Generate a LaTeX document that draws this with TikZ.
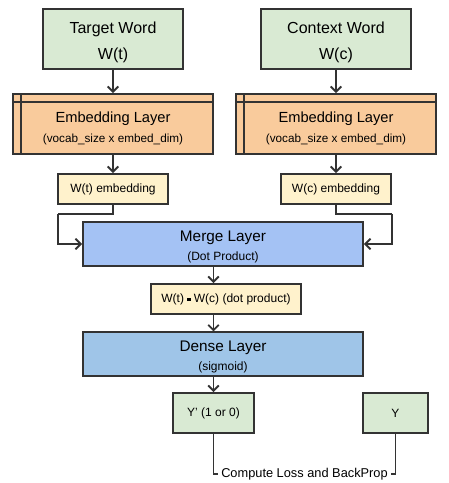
\documentclass[tikz,border=0pt]{standalone}
\usepackage{fontspec}
\setmainfont{Liberation Sans}
\usepackage{tikz}
\usetikzlibrary{arrows,arrows.meta,positioning,calc}
\definecolor{wordgreen}{HTML}{D9EAD3}
\definecolor{embedorange}{HTML}{F9CB9C}
\definecolor{vecyellow}{HTML}{FFF2CC}
\definecolor{mergeblue}{HTML}{A4C2F4}
\definecolor{denseblue}{HTML}{9FC5E8}
\definecolor{edgegray}{HTML}{333333}

\begin{document}
\begin{tikzpicture}[x=0.75pt, y=-0.75pt, >={Straight Barb[length=4pt,width=8pt]},
        box/.style={draw=edgegray, line width=1.4pt, align=center, inner sep=2pt},
        wordbox/.style={box, fill=wordgreen, minimum height=45pt, font=\fontsize{12}{14}\selectfont},
        embedbox/.style={box, fill=embedorange, minimum width=150pt, minimum height=45pt},
        vecbox/.style={box, fill=vecyellow, minimum height=22.5pt, font=\fontsize{9}{10}\selectfont},
        layerbox/.style={box, minimum width=210pt, minimum height=30pt},
        link/.style={draw=edgegray, line width=1.4pt}]
        \useasboundingbox (0,0) rectangle (449,483);

        % Inputs
        \node[wordbox, minimum width=105pt] (target) at (113,39) {\rule{0pt}{13.5pt}Target Word\\[5pt]W(t)};
        \node[wordbox, minimum width=112.5pt] (context) at (336,39) {\rule{0pt}{13.5pt}Context Word\\[5pt]W(c)};

        % Embedding layers
        \node[embedbox] (embt) at (113,124) {\fontsize{11}{12}\selectfont\rule{0pt}{15pt}Embedding Layer\\[3pt]\fontsize{8.8}{9}\selectfont (vocab\_size x embed\_dim)};
        \node[embedbox] (embc) at (336,124) {\fontsize{11}{12}\selectfont\rule{0pt}{15pt}Embedding Layer\\[3pt]\fontsize{8.8}{9}\selectfont (vocab\_size x embed\_dim)};
        \foreach \e in {embt, embc} {
            \draw[link] ([yshift=-6.75pt]\e.north west) -- ([yshift=-6.75pt]\e.north east);
            \draw[link] ([xshift=7pt]\e.north west) -- ([xshift=7pt]\e.south west);
        }

        % Embedded vectors
        \node[vecbox, minimum width=82.5pt] (vect) at (113,189) {W(t) embedding};
        \node[vecbox, minimum width=82.5pt] (vecc) at (336,189) {W(c) embedding};

        % Merge and dense layers
        \node[layerbox, fill=mergeblue] (merge) at (223,244) {\fontsize{11.5}{13}\selectfont\rule{0pt}{12.5pt}Merge Layer\\[2pt]\fontsize{9}{9}\selectfont (Dot Product)};
        \node[vecbox, minimum width=112.5pt] (dot) at (226,299) {W(t)\kern2.5pt\rule[1pt]{2.4pt}{2.4pt}\kern2.5pt W(c) (dot product)};
        \node[layerbox, fill=denseblue] (dense) at (223,354) {\fontsize{11.5}{13}\selectfont\rule{0pt}{12.5pt}Dense Layer\\[2pt]\fontsize{9}{9}\selectfont (sigmoid)};

        % Outputs
        \node[box, fill=wordgreen, minimum width=60.75pt, minimum height=30pt, font=\fontsize{9}{10}\selectfont] (ypred) at (213.5,413) {Y' (1 or 0)};
        \node[box, fill=wordgreen, minimum width=48.75pt, minimum height=30pt, font=\fontsize{9}{10}\selectfont] (ytrue) at (395.5,413) {Y};
        \node[inner sep=2pt, font=\fontsize{9.6}{10}\selectfont] (loss) at (304.5,474) {Compute Loss and BackProp};

        % Bends
        \coordinate (lbend) at (58,214);
        \coordinate (rbend) at (392,214);

        % Connectors
        \draw[link, ->] (target) -- (embt);
        \draw[link, ->] (context) -- (embc);
        \draw[link, ->] (embt) -- (vect);
        \draw[link, ->] (embc) -- (vecc);
        \draw[link] (vect.south) |- (lbend);
        \draw[link, ->] (lbend) |- (merge.west);
        \draw[link] (vecc.south) |- (rbend);
        \draw[link, ->] (rbend) |- (merge.east);
        \draw[link, ->] (merge.south -| ypred) -- (dot.north -| ypred);
        \draw[link, ->] (dot.south -| ypred) -- (dense.north -| ypred);
        \draw[link, ->] (dense.south -| ypred) -- (ypred.north);
        \draw[link] (ypred.south) |- (loss.west);
        \draw[link] (ytrue.south) |- (loss.east);
    \end{tikzpicture}
\end{document}
